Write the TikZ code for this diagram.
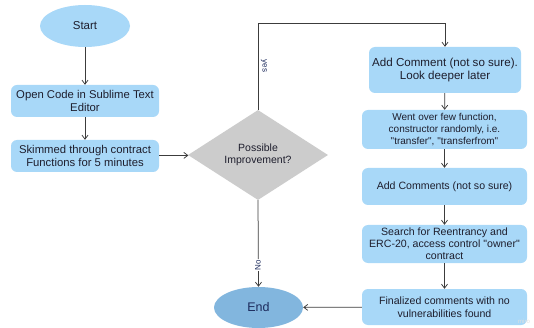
\documentclass[tikz,border=0pt]{standalone}
\usepackage{fontspec}
\setmainfont{Liberation Sans}[Ligatures=TeXOff]
\usetikzlibrary{shapes.geometric,arrows.meta}
\definecolor{boxblue}{RGB}{168,216,248}
\definecolor{endblue}{RGB}{130,182,222}
\definecolor{diagrey}{RGB}{204,204,204}
\definecolor{txt}{RGB}{30,30,45}
\definecolor{navy}{RGB}{28,42,92}
\definecolor{lin}{RGB}{60,60,60}
\tikzset{
  procbox/.style={draw=none, fill=boxblue, rounded corners=6pt, align=center, text=txt, font=\fontsize{11.3}{13.3}\selectfont, inner sep=2pt},
  termnode/.style={ellipse, draw=none, align=center, font=\fontsize{11.5}{13}\selectfont},
  decision/.style={diamond, fill=diagrey, draw=none, align=center, text=txt, font=\fontsize{10.5}{12.5}\selectfont, inner sep=0pt},
  conn/.style={draw=lin, line width=0.75pt, -{Straight Barb[length=4pt,width=6pt]}},
  lbl/.style={font=\fontsize{8}{9}\selectfont, text=navy, inner sep=1pt}
}
\begin{document}
\begin{tikzpicture}[x=1pt,y=-1pt]
\useasboundingbox (0,0) rectangle (534,328);
\fill[white] (0,0) rectangle (534,328);

\node[termnode, fill=boxblue, text=txt, minimum width=90pt, minimum height=42pt] (start) at (85,26) {Start};
\node[procbox, minimum width=148pt, minimum height=32pt] (b1) at (85,101) {Open Code in Sublime Text\\Editor};
\node[procbox, minimum width=148pt, minimum height=32pt] (b2) at (85,156) {Skimmed through contract\\Functions for 5 minutes};
\node[decision, minimum width=140pt, minimum height=90pt] (dia) at (258,155) {Possible\\Improvement?};

\node[procbox, minimum width=152pt, minimum height=46pt, font=\fontsize{11.6}{13.6}\selectfont] (b3) at (445,70) {Add Comment (not so sure).\\Look deeper later};
\node[procbox, minimum width=165pt, minimum height=39pt, font=\fontsize{10}{12}\selectfont] (b4) at (444.5,129.5) {Went over few function,\\constructor randomly, i.e.\\"transfer", "transferfrom"};
\node[procbox, minimum width=165pt, minimum height=37pt, font=\fontsize{10.6}{12.2}\selectfont] (b5) at (444.5,186.5) {Add Comments (not so sure)};
\node[procbox, minimum width=165pt, minimum height=38pt, font=\fontsize{10.6}{12.2}\selectfont] (b6) at (444.5,244) {Search for Reentrancy and\\ERC-20, access control "owner"\\contract};
\node[procbox, minimum width=165pt, minimum height=36pt, font=\fontsize{10.6}{12.6}\selectfont] (b7) at (444.5,307) {Finalized comments with no\\vulnerabilities found};

\node[termnode, fill=endblue, text=navy, minimum width=89pt, minimum height=41pt, font=\fontsize{12.5}{14}\selectfont] (end) at (258.5,307.5) {End};

\coordinate (yc) at (258,23);

\draw[conn] (start) -- (b1);
\draw[conn] (b1) -- (b2);
\draw[conn] (b2) -- (dia);
\draw[conn] (dia.north) -- (yc) -| (b3.north);
\node[lbl, rotate=-90] (yeslbl) at (264,66) {yes};
\draw[conn] (dia.south) -- (end.north);
\node[lbl, rotate=90, fill=white] (nolbl) at (258,265) {No};
\draw[conn] (b3) -- (b4);
\draw[conn] (b4) -- (b5);
\draw[conn] (b5) -- (b6);
\draw[conn] (b6) -- (b7);
\draw[conn] (b7) -- (end);

\node[font=\fontsize{6}{7}\selectfont, text=black!12, inner sep=0pt] (miro) at (524,321) {miro};
\end{tikzpicture}
\end{document}
